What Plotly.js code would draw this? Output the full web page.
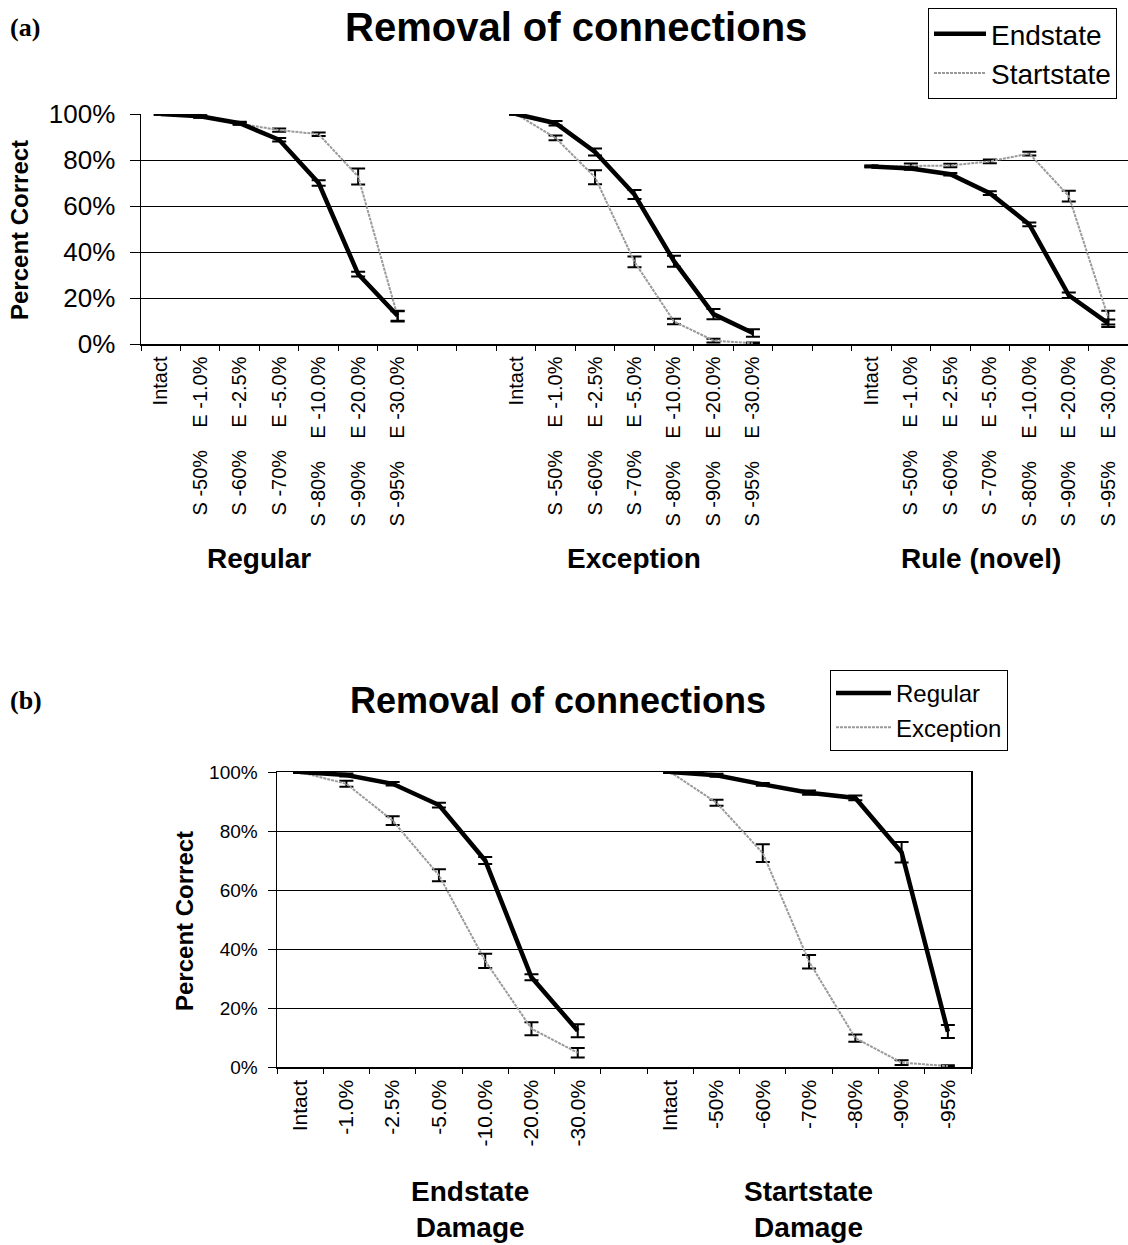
<!DOCTYPE html>
<html>
<head>
<meta charset="utf-8">
<script src="https://cdn.plot.ly/plotly-3.0.1.min.js"></script>
<style>html,body{margin:0;padding:0;background:#fff}#chart{width:1128px;height:1245px}</style>
</head>
<body>
<div id="chart"></div>
<script>
// ---------- data ----------
const groupsA = ['Regular', 'Exception', 'Rule (novel)'];
const groupsB = ['Endstate<br>Damage', 'Startstate<br>Damage'];
const endLabelsA = ['Intact', 'E -1.0%', 'E -2.5%', 'E -5.0%', 'E -10.0%', 'E -20.0%', 'E -30.0%'];
const startLabelsA = ['', 'S -50%', 'S -60%', 'S -70%', 'S -80%', 'S -90%', 'S -95%'];
const endLabelsB = ['Intact', '-1.0%', '-2.5%', '-5.0%', '-10.0%', '-20.0%', '-30.0%'];
const startLabelsB = ['Intact', '-50%', '-60%', '-70%', '-80%', '-90%', '-95%'];
const yTicks = [0, 20, 40, 60, 80, 100];
const yTickLabels = ['0%', '20%', '40%', '60%', '80%', '100%'];

// percent correct (Endstate = endstate damage, Startstate = startstate damage)
const regEnd    = [100, 99.0, 96.0, 88.8, 70.0, 30.4, 12.3];
const regEndErr = [0.3, 0.5, 0.6, 0.8, 1.2, 1.0, 2.2];
const regStart    = [100, 98.9, 95.8, 93.0, 91.2, 72.8, 12.0];
const regStartErr = [0.3, 0.5, 0.5, 0.7, 0.8, 3.5, 2.2];
const excEnd    = [100, 96.0, 83.5, 65.0, 36.0, 13.0, 4.8];
const excEndErr = [0.3, 1.0, 1.5, 2.0, 2.4, 2.2, 1.6];
const excStart    = [100, 89.6, 72.5, 35.7, 9.8, 1.5, 0.3];
const excStartErr = [0.3, 1.0, 3.0, 2.3, 1.2, 0.8, 0.3];
const ruleEnd    = [77.2, 76.3, 73.8, 65.6, 52.0, 21.2, 9.0];
const ruleEndErr = [0.3, 0.5, 0.5, 0.8, 0.8, 1.2, 1.6];
const ruleStart    = [77.2, 77.5, 77.6, 79.4, 82.8, 64.3, 11.5];
const ruleStartErr = [0.4, 1.0, 0.8, 0.8, 0.8, 2.3, 3.0];

// ---------- helpers ----------
const W = 1128, H = 1245;
const px = v => v / W;
const py = v => 1 - v / H;
const FONT = 'Liberation Sans, Arial, Helvetica, sans-serif';
const NB = '\u00A0\u00A0\u00A0\u00A0';

function joinGroups(groups, gap) {
  const out = [];
  groups.forEach((g, i) => {
    if (i > 0) for (let k = 0; k < gap; k++) out.push(null);
    out.push(...g);
  });
  return out;
}
function idx(n) { return Array.from({length: n}, (_, i) => i); }

// panel (a): 3 groups of 7, 2 empty slots between
const nA = 7 * 3 + 2 * 2;
const xA = idx(nA);
const tickTextA = joinGroups(groupsA.map(() => endLabelsA.map((e, i) => startLabelsA[i] ? startLabelsA[i] + NB + e : e)), 2).map(v => v === null ? '' : v);
// panel (b): 2 groups of 7, 1 empty slot between
const nB = 7 * 2 + 1;
const xB = idx(nB);
const tickTextB = joinGroups([endLabelsB, startLabelsB], 1).map(v => v === null ? '' : v);

const boundsA = idx(nA + 1).map(i => i - 0.5);
const boundsB = idx(nB + 1).map(i => i - 0.5);

const blackLine = {color: 'black', width: 4.5};
const grayLine = {color: '#9a9a9a', width: 2, dash: '3px,1px'};
const errStyle = arr => ({type: 'data', array: arr, visible: true, color: 'black', thickness: 2, width: 7});
const zeroNull = a => a.map(v => v === null ? 0 : v);

const traces = [
  {x: xA, y: joinGroups([regStart, excStart, ruleStart], 2), name: 'Startstate', mode: 'lines',
   line: grayLine, error_y: errStyle(zeroNull(joinGroups([regStartErr, excStartErr, ruleStartErr], 2))),
   xaxis: 'x', yaxis: 'y', legend: 'legend', legendrank: 2, legendgroup: 's', hoverinfo: 'skip'},
  {x: xA, y: joinGroups([regEnd, excEnd, ruleEnd], 2), name: 'Endstate', mode: 'lines',
   line: blackLine, error_y: errStyle(zeroNull(joinGroups([regEndErr, excEndErr, ruleEndErr], 2))),
   xaxis: 'x', yaxis: 'y', legend: 'legend', legendrank: 1, legendgroup: 'e', hoverinfo: 'skip'},
  {x: xB, y: joinGroups([excEnd, excStart], 1), name: 'Exception', mode: 'lines',
   line: grayLine, error_y: errStyle(zeroNull(joinGroups([excEndErr, excStartErr], 1))),
   xaxis: 'x2', yaxis: 'y2', legend: 'legend2', legendrank: 2, legendgroup: 'x', hoverinfo: 'skip'},
  {x: xB, y: joinGroups([regEnd, regStart], 1), name: 'Regular', mode: 'lines',
   line: blackLine, error_y: errStyle(zeroNull(joinGroups([regEndErr, regStartErr], 1))),
   xaxis: 'x2', yaxis: 'y2', legend: 'legend2', legendrank: 1, legendgroup: 'r', hoverinfo: 'skip'},
  {x: [], y: [], xaxis: 'x3', yaxis: 'y', showlegend: false, mode: 'lines'},
  {x: [], y: [], xaxis: 'x4', yaxis: 'y2', showlegend: false, mode: 'lines'}
];

const layout = {
  width: W, height: H,
  margin: {l: 0, r: 0, t: 0, b: 0},
  paper_bgcolor: 'white', plot_bgcolor: 'white',
  font: {family: FONT, color: 'black'},
  xaxis: {domain: [px(141), 1], range: [-0.5, nA - 0.5], anchor: 'y',
    tickmode: 'array', tickvals: xA, ticktext: tickTextA, tickangle: -90,
    tickfont: {size: 20, color: 'black'}, ticks: '', showgrid: false, zeroline: false,
    showline: true, linecolor: 'black', linewidth: 1.5, ticklabelstandoff: 3, fixedrange: true},
  xaxis3: {overlaying: 'x', anchor: 'y', range: [-0.5, nA - 0.5], tickmode: 'array', tickvals: boundsA,
    ticks: 'outside', ticklen: 6, tickwidth: 1, tickcolor: 'black', showticklabels: false,
    showgrid: false, zeroline: false, showline: false, side: 'bottom', fixedrange: true},
  yaxis: {domain: [py(344), py(114)], range: [0, 100], anchor: 'x', tickmode: 'array', tickvals: yTicks,
    ticktext: yTickLabels, tickfont: {size: 26, color: 'black'}, showgrid: true, gridcolor: 'black', gridwidth: 1,
    zeroline: false, showline: true, linecolor: 'black', linewidth: 1.5, ticks: 'outside', ticklen: 10,
    tickcolor: 'black', ticklabelstandoff: 9, fixedrange: true},
  xaxis2: {domain: [px(277), px(971)], range: [-0.5, nB - 0.5], anchor: 'y2',
    tickmode: 'array', tickvals: xB, ticktext: tickTextB, tickangle: -90,
    tickfont: {size: 21, color: 'black'}, ticks: '', showgrid: false, zeroline: false,
    showline: true, linecolor: 'black', linewidth: 1.5, mirror: true, ticklabelstandoff: 3, fixedrange: true},
  xaxis4: {overlaying: 'x2', anchor: 'y2', range: [-0.5, nB - 0.5], tickmode: 'array', tickvals: boundsB,
    ticks: 'outside', ticklen: 6, tickwidth: 1, tickcolor: 'black', showticklabels: false,
    showgrid: false, zeroline: false, showline: false, side: 'bottom', fixedrange: true},
  yaxis2: {domain: [py(1067), py(772)], range: [0, 100], anchor: 'x2', tickmode: 'array', tickvals: yTicks,
    ticktext: yTickLabels, tickfont: {size: 19, color: 'black'}, showgrid: true, gridcolor: 'black', gridwidth: 1,
    zeroline: false, showline: true, linecolor: 'black', linewidth: 1.5, mirror: true, ticks: 'outside', ticklen: 8,
    tickcolor: 'black', ticklabelstandoff: 6, fixedrange: true},
  legend: {x: px(928), y: py(8), xanchor: 'left', yanchor: 'top', bordercolor: 'black', borderwidth: 1,
    bgcolor: 'white', font: {size: 28, family: FONT, color: 'black'}, tracegroupgap: 4, traceorder: 'normal',
    itemwidth: 52},
  legend2: {x: px(830), y: py(670), xanchor: 'left', yanchor: 'top', bordercolor: 'black', borderwidth: 1,
    bgcolor: 'white', font: {size: 24, family: FONT, color: 'black'}, tracegroupgap: 0, traceorder: 'normal',
    itemwidth: 55},
  annotations: [
    {text: '<b>(a)</b>', x: px(8), y: py(27), xref: 'paper', yref: 'paper', xanchor: 'left', yanchor: 'middle',
     showarrow: false, font: {family: 'Liberation Serif, Times New Roman, serif', size: 26}},
    {text: '<b>Removal of connections</b>', x: px(576), y: py(27), xref: 'paper', yref: 'paper',
     xanchor: 'center', yanchor: 'middle', showarrow: false, font: {size: 40}},
    {text: '<b>Percent Correct</b>', x: px(20), y: py(230), xref: 'paper', yref: 'paper', textangle: -90,
     xanchor: 'center', yanchor: 'middle', showarrow: false, font: {size: 24}},
    {text: '<b>' + groupsA[0] + '</b>', x: px(259), y: py(558), xref: 'paper', yref: 'paper',
     xanchor: 'center', yanchor: 'middle', showarrow: false, font: {size: 28}},
    {text: '<b>' + groupsA[1] + '</b>', x: px(634), y: py(558), xref: 'paper', yref: 'paper',
     xanchor: 'center', yanchor: 'middle', showarrow: false, font: {size: 28}},
    {text: '<b>' + groupsA[2] + '</b>', x: px(981), y: py(558), xref: 'paper', yref: 'paper',
     xanchor: 'center', yanchor: 'middle', showarrow: false, font: {size: 28}},
    {text: '<b>(b)</b>', x: px(8), y: py(700), xref: 'paper', yref: 'paper', xanchor: 'left', yanchor: 'middle',
     showarrow: false, font: {family: 'Liberation Serif, Times New Roman, serif', size: 26}},
    {text: '<b>Removal of connections</b>', x: px(558), y: py(700), xref: 'paper', yref: 'paper',
     xanchor: 'center', yanchor: 'middle', showarrow: false, font: {size: 36}},
    {text: '<b>Percent Correct</b>', x: px(184), y: py(921), xref: 'paper', yref: 'paper', textangle: -90,
     xanchor: 'center', yanchor: 'middle', showarrow: false, font: {size: 24}},
    {text: '<b>' + groupsB[0] + '</b>', x: px(470), y: py(1209), xref: 'paper', yref: 'paper',
     xanchor: 'center', yanchor: 'middle', showarrow: false, font: {size: 28}},
    {text: '<b>' + groupsB[1] + '</b>', x: px(808), y: py(1209), xref: 'paper', yref: 'paper',
     xanchor: 'center', yanchor: 'middle', showarrow: false, font: {size: 28}}
  ],
  showlegend: true
};

Plotly.newPlot('chart', traces, layout, {staticPlot: true, displayModeBar: false});
</script>
</body>
</html>
